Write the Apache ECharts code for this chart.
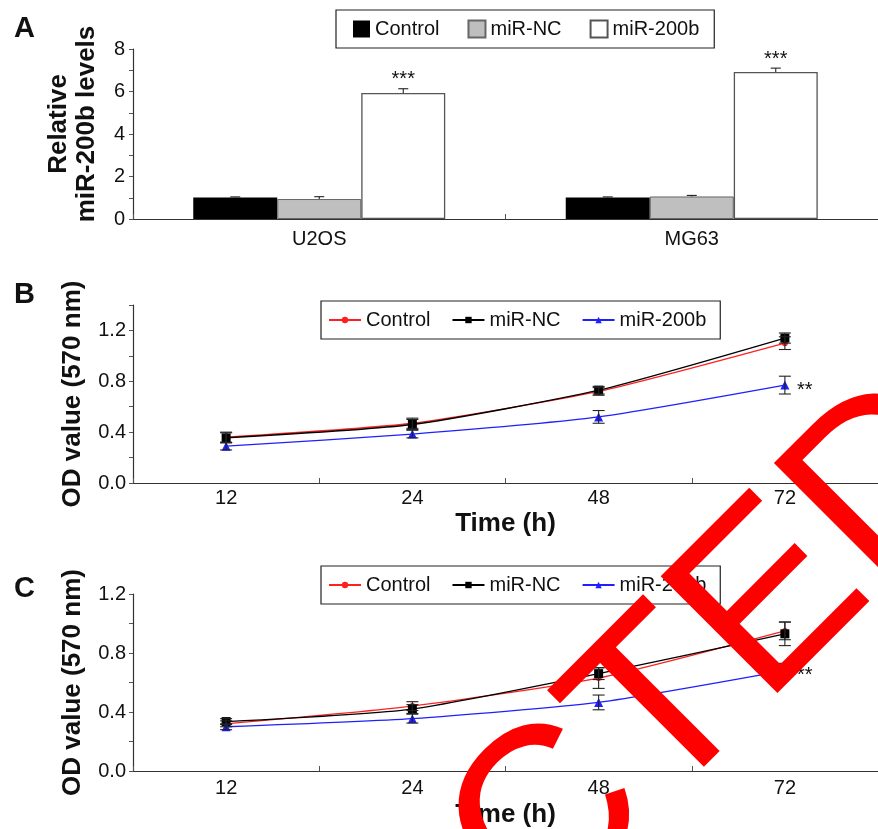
<!DOCTYPE html>
<html>
<head>
<meta charset="utf-8">
<script src="https://cdn.jsdelivr.net/npm/echarts@6/dist/echarts.min.js"></script>
<style>
  html, body { margin: 0; padding: 0; background: #fff; }
  #chart { width: 878px; height: 829px; }
</style>
</head>
<body>
<div id="chart"></div>
<script>
const FONT = '"Liberation Sans", Arial, Helvetica, sans-serif'

// panel A: relative miR-200b levels
const cellLines = ['U2OS', 'MG63']
const levelControl = [1.01, 1.01]
const levelNC = [0.94, 1.06]
const level200b = [5.93, 6.92]
const errLevelControl = [0.03, 0.03]
const errLevelNC = [0.11, 0.05]
const errLevel200b = [0.2, 0.18]
const sigLevel200b = ['***', '***']
const yTicksA = [0, 2, 4, 6, 8]

// panels B and C: OD value over time
const hours = ['12', '24', '48', '72']
const yTicksOD = [0, 0.4, 0.8, 1.2]

const odControlB = [0.36, 0.47, 0.72, 1.1]
const odNCB = [0.355, 0.46, 0.73, 1.14]
const od200bB = [0.29, 0.385, 0.52, 0.77]
const errControlB = [0.04, 0.04, 0.03, 0.05]
const errNCB = [0.04, 0.04, 0.03, 0.04]
const err200bB = [0.03, 0.03, 0.05, 0.07]
const sig200bB = ['', '', '', '**']

const odControlC = [0.32, 0.44, 0.63, 0.95]
const odNCC = [0.335, 0.42, 0.66, 0.93]
const od200bC = [0.3, 0.355, 0.465, 0.68]
const errControlC = [0.02, 0.03, 0.07, 0.06]
const errNCC = [0.02, 0.03, 0.04, 0.08]
const err200bC = [0.02, 0.03, 0.05, 0.05]
const sig200bC = ['', '', '', '**']

const BAR_W = 84
const INK = '#111'
const AXIS = '#333'

function tickFormatter(ticks, digits) {
  return (v) => (ticks.some((t) => Math.abs(t - v) < 1e-6) ? v.toFixed(digits) : '')
}

function legendName(name) {
  return name.split(':')[1]
}

// error bars (and significance marks) drawn through the axes
function errorSeries(gridIdx, values, errs, sig, opts) {
  return {
    type: 'custom',
    xAxisIndex: gridIdx,
    yAxisIndex: gridIdx,
    z: 5,
    silent: true,
    data: values.map((v, i) => [i, v, errs[i], sig[i] || '']),
    renderItem(params, api) {
      const i = api.value(0)
      const v = api.value(1)
      const e = api.value(2)
      const label = sig[i] || ''
      const mid = api.coord([i, v])
      const top = api.coord([i, v + e])
      const bot = opts.oneSided ? mid : api.coord([i, v - e])
      const x = mid[0] + (opts.offset || 0)
      const cap = opts.cap
      const st = { stroke: '#222', lineWidth: 1.1 }
      const children = [
        { type: 'line', shape: { x1: x, y1: top[1], x2: x, y2: bot[1] }, style: st },
        { type: 'line', shape: { x1: x - cap, y1: top[1], x2: x + cap, y2: top[1] }, style: st },
      ]
      if (!opts.oneSided) {
        children.push({ type: 'line', shape: { x1: x - cap, y1: bot[1], x2: x + cap, y2: bot[1] }, style: st })
      }
      if (label) {
        const pos = opts.sigRight
          ? { x: x + 12, y: mid[1] + 5, align: 'left' }
          : { x, y: top[1] - 9, align: 'center' }
        children.push({
          type: 'text',
          x: pos.x,
          y: pos.y,
          style: { text: label, fill: INK, font: `20px ${FONT}`, align: pos.align, verticalAlign: 'middle' },
        })
      }
      return { type: 'group', children }
    },
  }
}

function lineSeries(name, gridIdx, data, color, symbol, size) {
  return {
    name,
    type: 'line',
    xAxisIndex: gridIdx,
    yAxisIndex: gridIdx,
    data,
    smooth: 0.2,
    symbol,
    symbolSize: size,
    lineStyle: { color, width: 1.3 },
    itemStyle: { color },
    z: 3,
  }
}

const xAxisBase = {
  type: 'category',
  boundaryGap: true,
  axisLine: { show: true, lineStyle: { color: AXIS, width: 1.2 } },
  axisTick: { show: true, inside: true, length: 5, interval: 0, lineStyle: { color: '#555' } },
  splitLine: { show: false },
}

const yAxisBase = {
  type: 'value',
  nameLocation: 'middle',
  nameTextStyle: { fontSize: 26, fontWeight: 'bold', color: INK, fontFamily: FONT, lineHeight: 28 },
  axisLine: { show: true, lineStyle: { color: AXIS, width: 1.2 } },
  axisTick: { show: true, inside: false, length: 4, lineStyle: { color: '#555' } },
  splitLine: { show: false },
}

const labelBase = { color: INK, fontSize: 20, fontFamily: FONT }

const legendBase = {
  orient: 'horizontal',
  selectedMode: false,
  borderColor: '#222',
  borderWidth: 1.2,
  borderRadius: 0,
  backgroundColor: '#fff',
  formatter: legendName,
  textStyle: { color: INK, fontSize: 20, fontFamily: FONT },
}

const option = {
  animation: false,
  backgroundColor: '#fff',
  grid: [
    { left: 133, top: 49, width: 756, height: 170 },
    { left: 133, top: 305, width: 756, height: 178 },
    { left: 133, top: 594, width: 756, height: 178 },
  ],
  legend: [
    {
      ...legendBase,
      left: 336,
      top: 10,
      data: ['A:Control', 'A:miR-NC', 'A:miR-200b'],
      icon: 'rect',
      itemWidth: 17,
      itemHeight: 17,
      itemGap: 28,
      padding: [9, 15, 9, 17],
    },
    {
      ...legendBase,
      left: 321,
      top: 301,
      data: ['B:Control', 'B:miR-NC', 'B:miR-200b'],
      itemWidth: 32,
      itemHeight: 8,
      itemGap: 21,
      padding: [9, 14, 9, 7],
    },
    {
      ...legendBase,
      left: 321,
      top: 566,
      data: ['C:Control', 'C:miR-NC', 'C:miR-200b'],
      itemWidth: 32,
      itemHeight: 8,
      itemGap: 21,
      padding: [9, 14, 9, 7],
    },
  ],
  xAxis: [
    { ...xAxisBase, gridIndex: 0, data: cellLines, axisLabel: { ...labelBase, margin: 10 } },
    {
      ...xAxisBase, gridIndex: 1, data: hours,
      axisLabel: { ...labelBase, margin: 5 },
      name: 'Time (h)', nameLocation: 'middle', nameGap: 28,
      nameTextStyle: { fontSize: 26, fontWeight: 'bold', color: INK, fontFamily: FONT },
    },
    {
      ...xAxisBase, gridIndex: 2, data: hours,
      axisLabel: { ...labelBase, margin: 7 },
      name: 'Time (h)', nameLocation: 'middle', nameGap: 31,
      nameTextStyle: { fontSize: 26, fontWeight: 'bold', color: INK, fontFamily: FONT },
    },
  ],
  yAxis: [
    {
      ...yAxisBase, gridIndex: 0, min: 0, max: 8, interval: 1,
      name: 'Relative\nmiR-200b levels', nameGap: 32,
      nameTextStyle: { ...yAxisBase.nameTextStyle, padding: [0, 0, 0, 20] },
      axisLabel: { ...labelBase, margin: 8, formatter: tickFormatter(yTicksA, 0) },
    },
    {
      ...yAxisBase, gridIndex: 1, min: 0, max: 1.4, interval: 0.2,
      name: 'OD value (570 nm)', nameGap: 43,
      axisLabel: { ...labelBase, margin: 7, formatter: tickFormatter(yTicksOD, 1) },
    },
    {
      ...yAxisBase, gridIndex: 2, min: 0, max: 1.2, interval: 0.2,
      name: 'OD value (570 nm)', nameGap: 43,
      axisLabel: { ...labelBase, margin: 7, formatter: tickFormatter(yTicksOD, 1) },
    },
  ],
  series: [
    {
      name: 'A:Control', type: 'bar', xAxisIndex: 0, yAxisIndex: 0, data: levelControl,
      barWidth: BAR_W, barGap: '0%', itemStyle: { color: '#000' },
    },
    {
      name: 'A:miR-NC', type: 'bar', xAxisIndex: 0, yAxisIndex: 0, data: levelNC,
      barWidth: BAR_W, barGap: '0%', itemStyle: { color: '#bfbfbf', borderColor: '#666', borderWidth: 1 },
    },
    {
      name: 'A:miR-200b', type: 'bar', xAxisIndex: 0, yAxisIndex: 0, data: level200b,
      barWidth: BAR_W, barGap: '0%', itemStyle: { color: '#fff', borderColor: '#555', borderWidth: 1.3 },
    },
    errorSeries(0, levelControl, errLevelControl, [], { offset: -BAR_W, cap: 5, oneSided: true }),
    errorSeries(0, levelNC, errLevelNC, [], { offset: 0, cap: 5, oneSided: true }),
    errorSeries(0, level200b, errLevel200b, sigLevel200b, { offset: BAR_W, cap: 5, oneSided: true }),

    lineSeries('B:Control', 1, odControlB, '#ff2020', 'circle', 6),
    lineSeries('B:miR-NC', 1, odNCB, '#000', 'rect', 9),
    lineSeries('B:miR-200b', 1, od200bB, '#1f1fff', 'triangle', 9),
    errorSeries(1, odControlB, errControlB, [], { cap: 6 }),
    errorSeries(1, odNCB, errNCB, [], { cap: 6 }),
    errorSeries(1, od200bB, err200bB, sig200bB, { cap: 6, sigRight: true }),

    lineSeries('C:Control', 2, odControlC, '#ff2020', 'circle', 6),
    lineSeries('C:miR-NC', 2, odNCC, '#000', 'rect', 9),
    lineSeries('C:miR-200b', 2, od200bC, '#1f1fff', 'triangle', 9),
    errorSeries(2, odControlC, errControlC, [], { cap: 6 }),
    errorSeries(2, odNCC, errNCC, [], { cap: 6 }),
    errorSeries(2, od200bC, err200bC, sig200bC, { cap: 6, sigRight: true }),
  ],
  graphic: [
    { type: 'text', left: 14, top: 14, style: { text: 'A', font: `bold 29px ${FONT}`, fill: INK } },
    { type: 'text', left: 14, top: 280, style: { text: 'B', font: `bold 29px ${FONT}`, fill: INK } },
    { type: 'text', left: 14, top: 574, style: { text: 'C', font: `bold 29px ${FONT}`, fill: INK } },
    {
      type: 'text',
      x: 434,
      y: 943,
      rotation: Math.PI / 4,
      z: 100,
      silent: true,
      style: {
        text: 'RETRACTED',
        font: `240px ${FONT}`,
        fill: '#ff0000',
        align: 'center',
        verticalAlign: 'middle',
      },
    },
  ],
}

const chart = echarts.init(document.getElementById('chart'), null, { renderer: 'canvas' })
chart.setOption(option)
</script>
</body>
</html>
